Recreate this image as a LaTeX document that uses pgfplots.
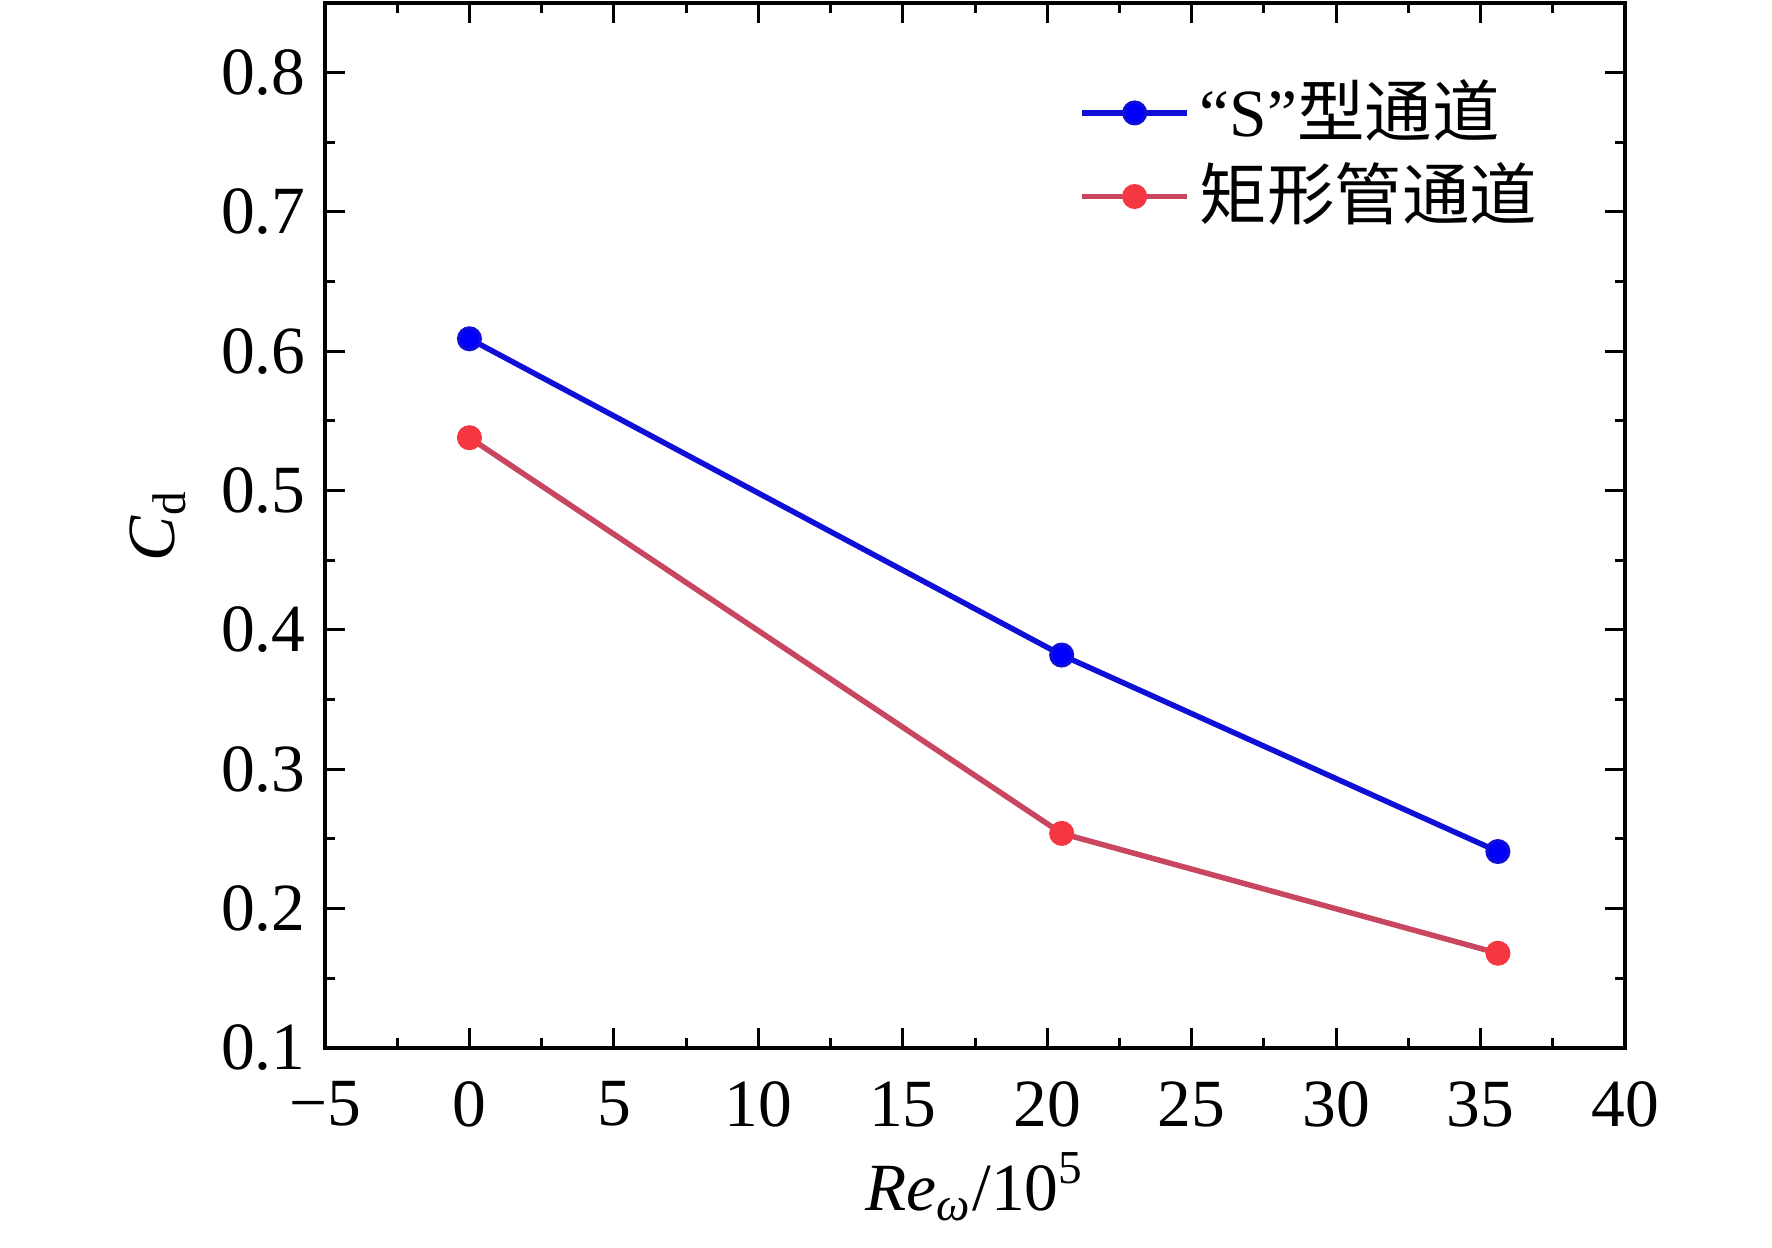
\documentclass[border=0pt]{standalone}
\usepackage{fontspec}
\setmainfont{Liberation Serif}
\newfontfamily\cjk{Noto Sans CJK SC}
\usepackage{pgfplots}
\pgfplotsset{compat=1.18}
\definecolor{bline}{RGB}{15,15,215}
\definecolor{bmark}{RGB}{0,0,250}
\definecolor{rline}{RGB}{200,70,95}
\definecolor{rmark}{RGB}{245,55,65}
\begin{document}
\fontsize{13.5}{16}\selectfont
\begin{tikzpicture}
\begin{axis}[
  scale only axis,
  width=260pt, height=209pt,
  xmin=-5, xmax=40, ymin=0.1, ymax=0.85,
  xtick={-5,0,5,10,15,20,25,30,35,40},
  xticklabels={−5,0,5,10,15,20,25,30,35,40},
  ytick={0.1,0.2,0.3,0.4,0.5,0.6,0.7,0.8},
  yticklabels={0.1,0.2,0.3,0.4,0.5,0.6,0.7,0.8},
  minor x tick num=1, minor y tick num=1,
  tick align=inside,
  major tick length=4pt, minor tick length=2pt,
  every tick/.style={black, line width=0.6pt},
  axis line style={line width=0.8pt},
  tick label style={font=\fontsize{13.5}{16}\selectfont},
  label style={font=\fontsize{13.5}{16}\selectfont},
  xticklabel style={yshift=-2pt},
  yticklabel style={xshift=0.8pt},
  xlabel={\textit{Re}\textsubscript{\textit{ω}}/10\textsuperscript{5}},
  ylabel={\textit{C}\textsubscript{d}},
  xlabel style={yshift=4pt},
  ylabel style={yshift=-2.2pt},
  legend cell align=left,
  legend style={at={(0.568,0.947)}, anchor=north west, draw=none, fill=none,
    font=\fontsize{13.5}{16}\selectfont, row sep=-0.7pt},
  legend image code/.code={\draw[mark repeat=2,mark phase=2,#1] plot coordinates {(0pt,0pt) (10.5pt,0pt) (21pt,0pt)};},
]
\addplot[color=bline, line width=1.1pt, mark=*, mark size=2.2pt, mark options={fill=bmark, draw=bline, line width=0.6pt}]
  coordinates {(0,0.609) (20.5,0.382) (35.6,0.241)};
\addlegendentry{“S”{\cjk 型通道}}
\addplot[color=rline, line width=1.1pt, mark=*, mark size=2.2pt, mark options={fill=rmark, draw=rmark, line width=0.6pt}]
  coordinates {(0,0.538) (20.5,0.254) (35.6,0.168)};
\addlegendentry{{\cjk 矩形管通道}}
\end{axis}
\path ([shift={(-65pt,-40pt)}]current axis.south west) rectangle ([shift={(29.4pt,0.6pt)}]current axis.north east);
\end{tikzpicture}
\end{document}
